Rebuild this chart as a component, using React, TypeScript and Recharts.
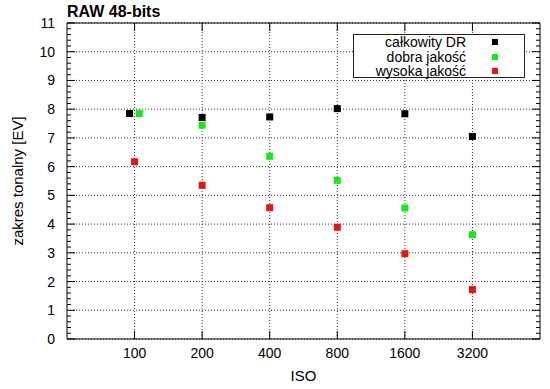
import { ScatterChart, Scatter, XAxis, YAxis, CartesianGrid, Legend, ReferenceArea } from 'recharts';

// ISO ticks on a log2 axis, values in EV
const ISO_TICKS = [100, 200, 400, 800, 1600, 3200];
const Y_TICKS = [0, 1, 2, 3, 4, 5, 6, 7, 8, 9, 10, 11];

const TOTAL_ISO = [95, 200, 400, 800, 1600, 3200];
const TOTAL_DR = [7.85, 7.71, 7.73, 8.02, 7.84, 7.05];

const GOOD_ISO = [105, 200, 400, 800, 1600, 3200];
const GOOD_DR = [7.85, 7.44, 6.36, 5.52, 4.56, 3.63];

const HIGH_ISO = [100, 200, 400, 800, 1600, 3200];
const HIGH_DR = [6.17, 5.35, 4.57, 3.89, 2.97, 1.72];

const totalData = TOTAL_ISO.map((iso, i) => ({ iso, ev: TOTAL_DR[i] }));
const goodData = GOOD_ISO.map((iso, i) => ({ iso, ev: GOOD_DR[i] }));
const highData = HIGH_ISO.map((iso, i) => ({ iso, ev: HIGH_DR[i] }));

// minor ticks every 0.2 EV
const MINOR_TICKS = Array.from({ length: 56 }, (_, i) => Math.round(i * 2) / 10);

const W = 550;
const H = 389;
const MARGIN = { top: 23, right: 10, bottom: 0, left: 0 };
const Y_AXIS_W = 67;
const X_AXIS_H = 50;
const PLOT_LEFT = MARGIN.left + Y_AXIS_W;
const PLOT_RIGHT = W - MARGIN.right;
const PLOT_TOP = MARGIN.top;
const PLOT_BOTTOM = H - MARGIN.bottom - X_AXIS_H;

const FONT = "'Liberation Sans', Arial, sans-serif";
const BLACK = '#000000';
const GREEN = '#11ee11';
const RED = '#ee1111';

const square = (color: string) => (props: any) => {
  const { cx, cy } = props;
  if (cx == null || cy == null) return <g />;
  return <rect x={cx - 3.5} y={cy - 3.5} width={7} height={7} fill={color} />;
};

const YTick = (props: any) => {
  const { y, payload } = props;
  const v = payload.value;
  const major = Math.abs(v - Math.round(v)) < 1e-6;
  const len = major ? 8 : 4;
  return (
    <g>
      <line x1={PLOT_LEFT} x2={PLOT_LEFT + len} y1={y} y2={y} stroke="#000" />
      <line x1={PLOT_RIGHT - len} x2={PLOT_RIGHT} y1={y} y2={y} stroke="#000" />
      {major && (
        <text x={PLOT_LEFT - 12} y={y} dy={5} textAnchor="end" fontSize={14} fill="#000" fontFamily={FONT}>
          {Math.round(v)}
        </text>
      )}
    </g>
  );
};

const XTick = (props: any) => {
  const { x, payload } = props;
  return (
    <g>
      <line x1={x} x2={x} y1={PLOT_BOTTOM} y2={PLOT_BOTTOM - 8} stroke="#000" />
      <line x1={x} x2={x} y1={PLOT_TOP} y2={PLOT_TOP + 8} stroke="#000" />
      <text x={x} y={PLOT_BOTTOM + 19} textAnchor="middle" fontSize={14} fill="#000" fontFamily={FONT}>
        {payload.value}
      </text>
    </g>
  );
};

const LegendBox = (props: any) => {
  const items = props.payload || [];
  return (
    <div
      style={{
        boxSizing: 'border-box',
        width: 172,
        height: 44,
        border: '1px solid #222',
        background: '#fff',
        fontFamily: FONT,
        fontSize: 14,
        color: '#000',
      }}
    >
      {items.map((it: any) => (
        <div key={it.value} style={{ display: 'flex', alignItems: 'center', height: 14.5, lineHeight: '14.5px' }}>
          <span style={{ width: 112, textAlign: 'right', whiteSpace: 'nowrap' }}>{it.value}</span>
          <span style={{ width: 6, height: 6, marginLeft: 26, background: it.color }} />
        </div>
      ))}
    </div>
  );
};

const App = () => {
  return (
    <div style={{ position: 'absolute', left: 0, top: 0, width: W, height: H, background: '#fff' }}>
      <div
        style={{
          position: 'absolute',
          left: 67,
          top: 3,
          fontFamily: FONT,
          fontWeight: 'bold',
          fontSize: 16,
          lineHeight: '18px',
          color: '#000',
          zIndex: 2,
        }}
      >
        RAW 48-bits
      </div>
      <ScatterChart width={W} height={H} margin={MARGIN}>
        <CartesianGrid
          stroke="#333"
          strokeDasharray="1 2"
          horizontalValues={Y_TICKS}
          verticalValues={ISO_TICKS}
        />
        <XAxis
          dataKey="iso"
          type="number"
          scale="log"
          domain={[50, 6400]}
          ticks={ISO_TICKS}
          interval={0}
          allowDataOverflow
          height={X_AXIS_H}
          axisLine={false}
          tickLine={false}
          tick={<XTick />}
          label={(p: any) => {
            const vb = p.viewBox || {};
            return (
              <text x={vb.x + vb.width / 2} y={380.5} textAnchor="middle" fontSize={15} fill="#000" fontFamily={FONT}>
                ISO
              </text>
            );
          }}
        />
        <YAxis
          dataKey="ev"
          type="number"
          domain={[0, 11]}
          ticks={MINOR_TICKS}
          interval={0}
          width={Y_AXIS_W}
          axisLine={false}
          tickLine={false}
          tick={<YTick />}
          label={(p: any) => {
            const vb = p.viewBox || {};
            const cy = vb.y + vb.height / 2;
            return (
              <text
                x={17}
                y={cy}
                transform={`rotate(-90, 17, ${cy})`}
                textAnchor="middle"
                dominantBaseline="central"
                fontSize={15}
                fill="#000"
                fontFamily={FONT}
              >
                zakres tonalny [EV]
              </text>
            );
          }}
        />
        <ReferenceArea x1={50} x2={6400} y1={0} y2={11} fill="none" stroke="#000" strokeWidth={1} ifOverflow="visible" />
        <Legend
          layout="horizontal"
          verticalAlign="middle"
          align="center"
          wrapperStyle={{ top: 34, left: 353, width: 172, height: 44 }}
          content={<LegendBox />}
        />
        <Scatter name="całkowity DR" data={totalData} fill={BLACK} shape={square(BLACK)} isAnimationActive={false} />
        <Scatter name="dobra jakość" data={goodData} fill={GREEN} shape={square(GREEN)} isAnimationActive={false} />
        <Scatter name="wysoka jakość" data={highData} fill={RED} shape={square(RED)} isAnimationActive={false} />
      </ScatterChart>
    </div>
  );
};

export default App;
